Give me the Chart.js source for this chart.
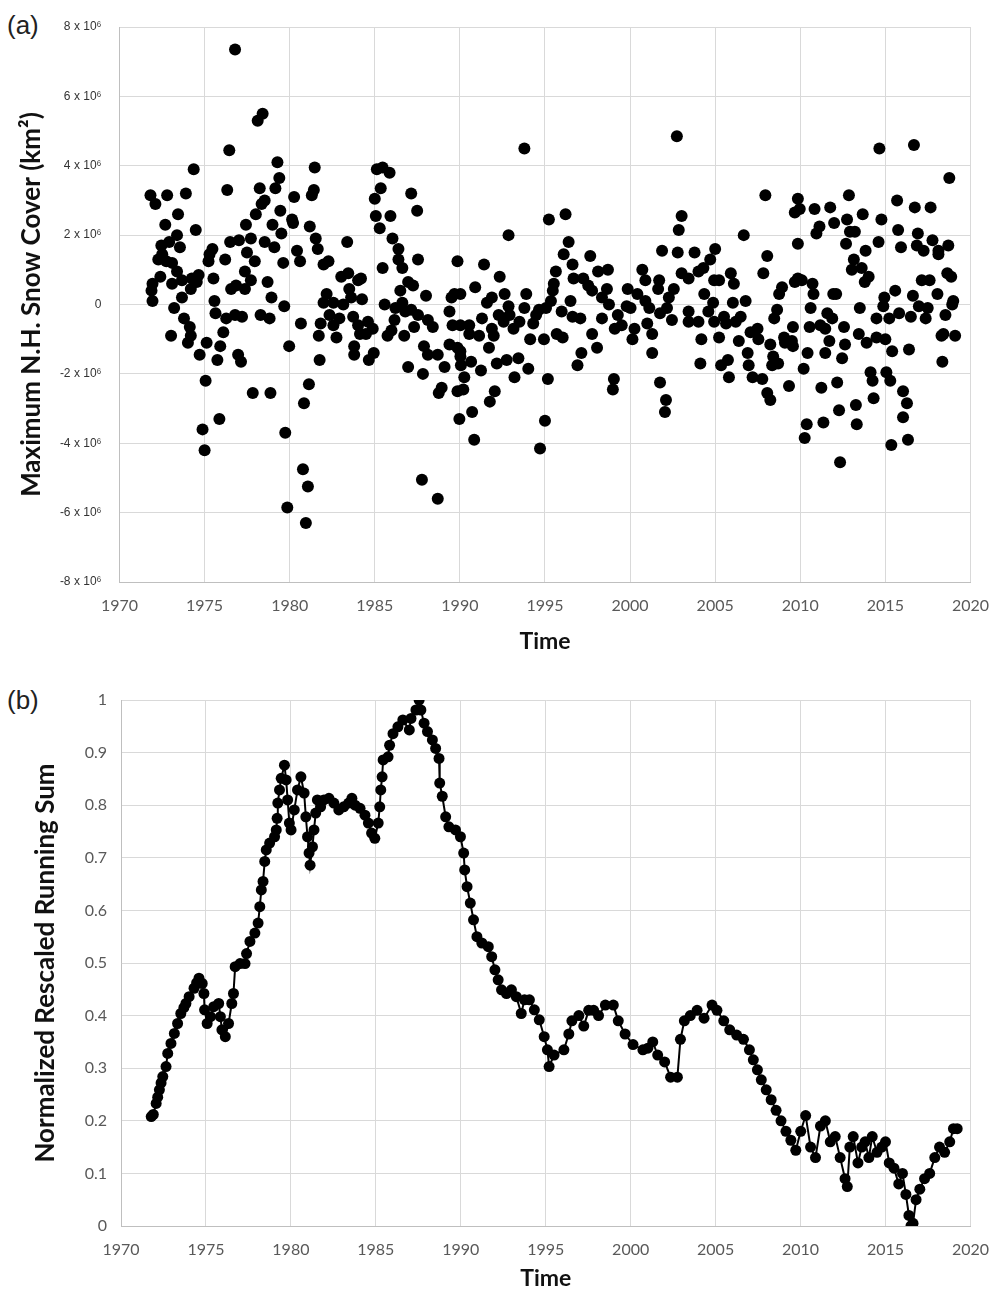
<!DOCTYPE html>
<html>
<head>
<meta charset="utf-8">
<script src="https://cdn.jsdelivr.net/npm/chart.js@4.4.1/dist/chart.umd.min.js"></script>
<style>
  body { margin: 0; background: #fff; }
  .panel { position: absolute; left: 0; width: 1003px; }
  .tag { position: absolute; left: 7px; font: 26px "Liberation Sans", Arial, sans-serif; color: #222; }
</style>
</head>
<body>
<div class="tag" style="top:10px">(a)</div>
<div class="tag" style="top:685px">(b)</div>
<div class="panel" style="top:0;height:660px"><canvas id="snowChart"></canvas></div>
<div class="panel" style="top:655px;height:637px"><canvas id="sumChart"></canvas></div>
<script>
// (a) maximum snow cover anomaly, [year, value in 10^6 km²]
const snow1970s = [
  [1971.82, 3.15], [1971.88, 0.4], [1971.94, 0.1], [1971.94, 0.6], [1972.11, 2.9], [1972.28, 1.3], [1972.40, 0.8],
  [1972.46, 1.7], [1972.51, 1.45], [1972.69, 2.3], [1972.75, 1.25], [1972.80, 3.15], [1972.92, 1.8], [1973.03, -0.9],
  [1973.09, 1.2], [1973.09, 0.6], [1973.21, -0.1], [1973.38, 2.0], [1973.38, 0.95], [1973.44, 2.6], [1973.55, 1.65],
  [1973.67, 0.7], [1973.67, 0.2], [1973.79, -0.4], [1973.90, 3.2], [1974.02, -1.1], [1974.13, -0.65], [1974.19, -0.9],
  [1974.19, 0.45], [1974.25, 0.75], [1974.36, 3.9], [1974.48, 2.15], [1974.54, 0.65], [1974.65, 0.85], [1974.71, -1.45],
  [1974.88, -3.6], [1975.00, -4.2], [1975.06, -2.2], [1975.12, -1.1], [1975.23, 1.25], [1975.29, 1.45], [1975.46, 1.6],
  [1975.52, 0.75], [1975.58, 0.1], [1975.64, -0.25], [1975.75, -1.6], [1975.87, -3.3], [1975.92, -1.2], [1976.10, -0.8],
  [1976.21, 1.3], [1976.27, -0.4], [1976.33, 3.3], [1976.45, 4.45], [1976.50, 1.8], [1976.56, 0.45], [1976.79, 7.35],
  [1976.79, -0.3], [1976.85, 0.55], [1976.97, -1.45], [1977.02, 1.85], [1977.14, -1.65], [1977.20, -0.35], [1977.37, 0.95],
  [1977.37, 0.45], [1977.43, 2.3], [1977.49, 1.5], [1977.72, 1.9], [1977.72, 0.7], [1977.83, -2.55], [1977.95, 1.25],
  [1978.01, 2.6], [1978.12, 5.3], [1978.24, 3.35], [1978.29, -0.3], [1978.35, 2.9], [1978.41, 5.5], [1978.53, 3.0],
  [1978.53, 1.8], [1978.70, 0.65], [1978.82, -0.4], [1978.87, -2.55], [1978.93, 0.2], [1978.99, 2.3], [1979.10, 1.65],
  [1979.16, 3.35], [1979.28, 4.1], [1979.39, 3.65], [1979.45, 2.7], [1979.51, 2.05], [1979.62, 1.2], [1979.68, -0.05],
  [1979.74, -3.7], [1979.86, -5.85], [1979.97, -1.2]
];
const snow1980s = [
  [1980.14, 2.45], [1980.20, 2.35], [1980.26, 3.1], [1980.43, 1.55], [1980.61, 1.25], [1980.66, -0.55], [1980.78, -4.75],
  [1980.84, -2.85], [1980.95, -6.3], [1981.07, -5.25], [1981.13, -2.3], [1981.18, 2.25], [1981.30, 3.15], [1981.42, 3.3],
  [1981.47, 3.95], [1981.53, 1.9], [1981.65, 1.6], [1981.71, -0.9], [1981.76, -1.6], [1981.82, -0.55], [1981.99, 1.15],
  [1981.99, 0.05], [1982.17, 0.3], [1982.28, 1.25], [1982.34, -0.3], [1982.57, 0.05], [1982.57, -0.6], [1982.75, -0.95],
  [1982.92, -0.4], [1983.03, 0.8], [1983.15, 0.0], [1983.38, 1.8], [1983.44, 0.9], [1983.50, 0.45], [1983.61, 0.2],
  [1983.73, -0.35], [1983.79, -1.2], [1983.79, -1.45], [1984.02, 0.7], [1984.02, -0.6], [1984.13, -0.85], [1984.19, 0.75],
  [1984.25, 0.15], [1984.48, -0.85], [1984.60, -0.5], [1984.65, -1.6], [1984.88, -0.7], [1984.94, -1.4], [1985.00, 3.05],
  [1985.06, 2.55], [1985.12, 3.9], [1985.29, 2.2], [1985.35, 3.35], [1985.46, 3.95], [1985.46, 1.05], [1985.58, 0.0],
  [1985.75, -0.9], [1985.87, 3.8], [1985.92, 2.55], [1985.98, -0.75], [1986.04, 1.9], [1986.16, -0.45], [1986.21, -0.1],
  [1986.39, 1.6], [1986.39, 1.3], [1986.50, 0.4], [1986.62, 1.05], [1986.62, 0.05], [1986.73, -0.9], [1986.79, -0.2],
  [1986.96, 0.65], [1986.96, -1.8], [1987.14, 3.2], [1987.14, -0.15], [1987.25, 0.55], [1987.31, -0.65], [1987.49, 2.7],
  [1987.54, 1.3], [1987.54, -0.3], [1987.77, -5.05], [1987.83, -2.0], [1987.89, -1.2], [1988.01, 0.25], [1988.12, -0.45],
  [1988.12, -1.45], [1988.41, -0.65], [1988.70, -1.45], [1988.70, -5.6], [1988.76, -2.55], [1988.93, -2.4], [1989.10, -1.8],
  [1989.39, -1.15], [1989.39, -0.2], [1989.51, 0.2], [1989.57, -0.6], [1989.68, 0.3], [1989.86, 1.25], [1989.86, -1.25],
  [1989.86, -2.5], [1989.97, -3.3]
];
const snow1990s = [
  [1990.03, 0.3], [1990.03, -0.6], [1990.03, -1.35], [1990.03, -1.5], [1990.06, -1.75], [1990.26, -2.1], [1990.20, -2.45],
  [1990.72, -3.1], [1990.84, -3.9], [1990.66, -1.65], [1991.24, -1.9], [1990.55, -0.6], [1990.55, -0.85], [1990.90, 0.5],
  [1991.13, -0.9], [1991.30, -0.4], [1991.42, 1.15], [1991.71, -1.25], [1991.59, 0.05], [1991.88, 0.2], [1991.88, -0.7],
  [1991.99, -0.9], [1991.76, -2.8], [1992.05, -2.5], [1992.17, -1.7], [1992.34, 0.8], [1992.28, -0.3], [1992.57, -0.5],
  [1992.63, 0.3], [1992.75, -1.6], [1992.86, 2.0], [1992.86, -0.05], [1992.92, -0.3], [1993.15, -0.7], [1993.21, -2.1],
  [1993.44, -1.55], [1993.50, -0.5], [1993.79, 4.5], [1993.90, 0.3], [1993.79, -0.1], [1994.02, -1.85], [1994.13, -1.0],
  [1994.31, -0.55], [1994.48, -0.3], [1994.65, -0.15], [1994.94, -1.0], [1994.71, -4.15], [1995.00, -3.35], [1995.17, -2.15],
  [1995.23, 2.45], [1995.06, -0.1], [1995.35, 0.1], [1995.46, 0.4], [1995.52, 0.6], [1995.64, 0.95], [1995.69, -0.85],
  [1995.98, -0.2], [1996.04, -0.95], [1996.10, 1.45], [1996.21, 2.6], [1996.39, 1.8], [1996.50, 0.1], [1996.62, 1.15],
  [1996.68, 0.75], [1996.62, -0.35], [1997.08, -0.4], [1996.91, -1.75], [1997.14, -1.4], [1997.25, 0.75], [1997.66, 1.4],
  [1997.54, 0.55], [1997.77, 0.4], [1997.77, -0.85], [1998.06, -1.25], [1998.12, 0.95], [1998.35, -0.4], [1998.35, 0.2],
  [1998.64, 0.45], [1998.70, 1.0], [1998.76, 0.0], [1999.05, -2.15], [1998.99, -2.45], [1999.10, -0.7], [1999.28, -0.3],
  [1999.51, -0.6], [1999.80, -0.05], [1999.86, 0.45]
];
const snow2000s = [
  [2000.03, -0.1], [2000.14, -1.0], [2000.26, -0.7], [2000.43, 0.3], [2000.72, 1.0], [2000.90, 0.7], [2000.90, 0.1],
  [2001.01, -0.55], [2001.13, -0.1], [2001.30, -0.85], [2001.30, -1.4], [2001.65, 0.45], [2001.71, 0.7], [2001.76, -0.25],
  [2001.76, -2.25], [2001.88, 1.55], [2002.05, -3.1], [2002.11, -2.75], [2002.17, -0.1], [2002.28, 0.2], [2002.46, -0.45],
  [2002.57, 0.45], [2002.75, 4.85], [2002.80, 1.5], [2002.86, 2.15], [2003.03, 2.55], [2003.03, 0.9], [2003.44, 0.75],
  [2003.44, -0.2], [2003.44, -0.5], [2003.79, 1.5], [2004.02, 0.95], [2004.02, -0.5], [2004.13, -1.7], [2004.19, -1.0],
  [2004.31, 1.05], [2004.36, 0.3], [2004.60, -0.2], [2004.71, 1.3], [2004.88, 0.05], [2004.94, 0.7], [2004.94, -0.5],
  [2005.00, 1.6], [2005.23, 0.7], [2005.23, -0.95], [2005.35, -1.75], [2005.52, -0.35], [2005.64, -0.55], [2005.75, -1.6],
  [2005.81, -2.1], [2005.92, 0.9], [2006.04, 0.05], [2006.10, 0.6], [2006.21, -0.5], [2006.39, -1.05], [2006.50, -0.35],
  [2006.68, 2.0], [2006.79, 0.1], [2006.91, -1.4], [2006.97, -1.75], [2007.08, -0.8], [2007.20, -2.1], [2007.49, -0.7],
  [2007.54, -1.0], [2007.77, -2.15], [2007.83, 0.9], [2007.95, 3.15], [2008.06, 1.4], [2008.06, -2.55], [2008.24, -1.15],
  [2008.24, -2.75], [2008.35, -1.75], [2008.41, -1.5], [2008.47, -0.4], [2008.64, -0.15], [2008.70, -1.7], [2008.76, 0.3],
  [2008.93, 0.5], [2009.05, -0.95], [2009.10, -1.1], [2009.34, -2.35], [2009.51, -1.05], [2009.57, -0.65], [2009.57, -1.2],
  [2009.68, 2.65], [2009.68, 0.65], [2009.86, 3.05], [2009.86, 1.75], [2009.86, 0.75]
];
const snow2010s = [
  [2009.97, 2.75], [2010.09, 0.7], [2010.20, -1.85], [2010.26, -3.85], [2010.38, -3.45], [2010.43, -1.4], [2010.55, -0.65],
  [2010.61, -0.1], [2010.72, 0.6], [2010.78, 0.3], [2010.84, 2.75], [2010.95, 2.05], [2011.13, 2.25], [2011.18, -0.6],
  [2011.24, -2.4], [2011.36, -3.4], [2011.47, -0.7], [2011.47, -1.4], [2011.59, -0.25], [2011.71, -1.05], [2011.76, 2.8],
  [2011.88, -0.4], [2011.94, 0.3], [2011.99, 2.35], [2012.11, 0.3], [2012.17, -2.25], [2012.28, -3.05], [2012.34, -4.55],
  [2012.46, -1.55], [2012.57, -0.65], [2012.63, -1.15], [2012.69, 1.75], [2012.75, 2.45], [2012.86, 3.15], [2012.92, 2.1],
  [2013.03, 1.0], [2013.15, 1.3], [2013.21, 2.1], [2013.27, -2.9], [2013.32, -3.45], [2013.44, -0.85], [2013.50, -0.1],
  [2013.61, 1.05], [2013.67, 2.6], [2013.79, 0.65], [2013.84, 1.55], [2013.90, -1.1], [2014.02, 0.8], [2014.13, -1.95],
  [2014.25, -2.2], [2014.31, -2.7], [2014.48, -0.95], [2014.48, -0.4], [2014.60, 1.8], [2014.65, 4.5], [2014.77, 2.45],
  [2014.88, -0.05], [2014.94, 0.2], [2015.00, -1.0], [2015.06, -1.95], [2015.23, -0.4], [2015.29, -2.2], [2015.35, -4.05],
  [2015.40, -1.35], [2015.58, 0.4], [2015.69, 3.0], [2015.75, 2.15], [2015.81, -0.25], [2015.92, 1.65], [2016.04, -2.5],
  [2016.04, -3.25], [2016.27, -2.85], [2016.33, -3.9], [2016.39, -1.3], [2016.50, -0.35], [2016.62, 0.25], [2016.68, 4.6],
  [2016.73, 2.8], [2016.85, 1.7], [2016.91, 2.05], [2016.97, -0.05], [2017.14, 0.7], [2017.25, 1.55], [2017.37, -0.4],
  [2017.49, -0.1], [2017.60, 0.7], [2017.66, 2.8], [2017.77, 1.85], [2018.06, 0.3], [2018.12, 1.55], [2018.12, 1.45],
  [2018.30, -0.9], [2018.35, -1.65], [2018.41, -0.85], [2018.53, -0.3], [2018.64, 0.9], [2018.70, 1.7], [2018.76, 3.65],
  [2018.87, 0.8], [2018.93, 0.0], [2018.99, 0.1], [2019.10, -0.9]
];

// (b) normalized rescaled running sum, [year, value]
const runSumEarly = [
  [1971.78, 0.208], [1971.90, 0.212], [1972.07, 0.233], [1972.16, 0.245], [1972.26, 0.259], [1972.36, 0.272], [1972.46, 0.284],
  [1972.65, 0.303], [1972.75, 0.328], [1972.94, 0.347], [1973.14, 0.366], [1973.33, 0.385], [1973.52, 0.404], [1973.70, 0.415],
  [1973.82, 0.423], [1974.01, 0.436], [1974.30, 0.452], [1974.45, 0.462], [1974.59, 0.471], [1974.78, 0.461], [1974.88, 0.442],
  [1974.92, 0.411], [1975.07, 0.385], [1975.27, 0.398], [1975.46, 0.417], [1975.75, 0.423], [1975.85, 0.398], [1975.94, 0.373],
  [1976.14, 0.360], [1976.33, 0.385], [1976.52, 0.423], [1976.62, 0.442], [1976.72, 0.493], [1977.01, 0.499], [1977.30, 0.499],
  [1977.39, 0.518], [1977.59, 0.541], [1977.88, 0.557], [1978.07, 0.576], [1978.17, 0.607], [1978.26, 0.639], [1978.36, 0.655],
  [1978.46, 0.693], [1978.55, 0.715], [1978.75, 0.728], [1979.04, 0.740], [1979.14, 0.753], [1979.19, 0.775], [1979.23, 0.804],
  [1979.33, 0.829], [1979.43, 0.851], [1979.62, 0.876], [1979.72, 0.848], [1979.81, 0.810], [1979.91, 0.766], [1980.01, 0.753],
  [1980.20, 0.791], [1980.39, 0.829], [1980.59, 0.854], [1980.78, 0.823], [1980.88, 0.778], [1980.98, 0.740], [1981.07, 0.709],
  [1981.13, 0.686], [1981.27, 0.721], [1981.36, 0.753], [1981.46, 0.785], [1981.56, 0.810], [1981.75, 0.797], [1981.94, 0.810],
  [1982.24, 0.813], [1982.53, 0.804], [1982.82, 0.791], [1983.11, 0.797], [1983.40, 0.804], [1983.59, 0.813], [1983.78, 0.800],
  [1984.07, 0.794], [1984.36, 0.781], [1984.56, 0.766], [1984.75, 0.747], [1984.94, 0.737]
];
const runSumMiddle = [
  [1985.14, 0.766], [1985.23, 0.797], [1985.29, 0.829], [1985.37, 0.854], [1985.43, 0.886], [1985.72, 0.892], [1985.81, 0.914],
  [1986.01, 0.936], [1986.30, 0.949], [1986.59, 0.962], [1986.97, 0.943], [1987.07, 0.965], [1987.36, 0.981], [1987.55, 1.000],
  [1987.65, 0.981], [1987.84, 0.956], [1988.04, 0.940], [1988.33, 0.924], [1988.52, 0.908], [1988.72, 0.889], [1988.76, 0.842],
  [1988.91, 0.817], [1989.11, 0.778], [1989.30, 0.759], [1989.69, 0.753], [1989.98, 0.740], [1990.17, 0.709], [1990.23, 0.677],
  [1990.37, 0.645], [1990.56, 0.614], [1990.75, 0.582], [1990.95, 0.550], [1991.24, 0.538], [1991.62, 0.531], [1991.82, 0.512],
  [1992.01, 0.487], [1992.20, 0.468], [1992.40, 0.449], [1992.69, 0.442], [1992.98, 0.449], [1993.27, 0.436], [1993.56, 0.404],
  [1993.75, 0.430], [1994.04, 0.430], [1994.33, 0.411], [1994.62, 0.392], [1994.91, 0.360], [1995.10, 0.335], [1995.20, 0.303]
];
const runSumLate = [
  [1995.49, 0.325], [1996.07, 0.335], [1996.36, 0.365], [1996.54, 0.39], [1996.95, 0.40], [1997.24, 0.38], [1997.53, 0.41],
  [1997.82, 0.41], [1998.11, 0.40], [1998.51, 0.42], [1998.98, 0.42], [1999.27, 0.39], [1999.67, 0.365], [2000.14, 0.345],
  [2000.72, 0.335], [2001.01, 0.338], [2001.30, 0.35], [2001.59, 0.325], [2002.00, 0.312], [2002.35, 0.283], [2002.75, 0.283],
  [2002.93, 0.355], [2003.16, 0.39], [2003.51, 0.40], [2003.91, 0.41], [2004.32, 0.395], [2004.79, 0.42], [2005.08, 0.41],
  [2005.48, 0.39], [2005.83, 0.373], [2006.24, 0.363], [2006.64, 0.355], [2006.99, 0.335], [2007.22, 0.316], [2007.46, 0.297],
  [2007.69, 0.278], [2007.98, 0.259], [2008.27, 0.24], [2008.56, 0.22], [2008.85, 0.2], [2009.14, 0.18], [2009.43, 0.163],
  [2009.72, 0.144], [2010.01, 0.18], [2010.30, 0.21], [2010.59, 0.15], [2010.88, 0.13], [2011.17, 0.19], [2011.46, 0.2],
  [2011.75, 0.16], [2012.04, 0.17], [2012.33, 0.13], [2012.62, 0.09], [2012.75, 0.075], [2012.90, 0.15], [2013.10, 0.17],
  [2013.38, 0.12], [2013.60, 0.15], [2013.80, 0.16], [2014.02, 0.13], [2014.22, 0.17], [2014.50, 0.14], [2014.78, 0.15],
  [2015.00, 0.16], [2015.22, 0.12], [2015.50, 0.11], [2015.78, 0.08], [2016.00, 0.10], [2016.20, 0.06], [2016.38, 0.02],
  [2016.50, 0.0], [2016.62, 0.005], [2016.80, 0.05], [2017.02, 0.07], [2017.30, 0.09], [2017.60, 0.10], [2017.90, 0.13],
  [2018.18, 0.15], [2018.48, 0.14], [2018.78, 0.16], [2019.00, 0.185], [2019.22, 0.185]
];

const yearMin = 1970, yearMax = 2020, yearStep = 5;

const toPoints = rows => rows.map(([x, y]) => ({ x, y }));
const snowPoints = toPoints([...snow1970s, ...snow1980s, ...snow1990s, ...snow2000s, ...snow2010s]);
const sumPoints = toPoints([...runSumEarly, ...runSumMiddle, ...runSumLate]);

const gridColor = '#d9d9d9';
const tickColor = '#595959';
const titleFont = { family: 'Lato, "Open Sans", sans-serif', size: 23, weight: 'bold' };
const sideTitleFont = { family: 'Lato, "Open Sans", sans-serif', size: 26, weight: 'bold' };
const tickFont = { family: 'Lato, "Open Sans", sans-serif', size: 16 };

function timeAxis(height) {
  return {
    type: 'linear',
    min: yearMin,
    max: yearMax,
    afterFit: s => { s.height = height; },
    grid: { color: gridColor, drawTicks: false },
    border: { color: '#bfbfbf' },
    ticks: { stepSize: yearStep, color: tickColor, font: tickFont, padding: 14, callback: v => String(v) },
    title: { display: true, text: 'Time', color: '#111', font: titleFont, padding: 0 }
  };
}

Chart.defaults.animation = false;

// (a) scatter
new Chart(document.getElementById('snowChart'), {
  type: 'scatter',
  data: {
    datasets: [{
      data: snowPoints,
      pointRadius: 6,
      pointBackgroundColor: '#000',
      pointBorderColor: '#000',
      pointBorderWidth: 0
    }]
  },
  options: {
    responsive: true,
    maintainAspectRatio: false,
    layout: { padding: { top: 27, left: 16, right: 19, bottom: 5 } },
    plugins: { legend: { display: false }, tooltip: { enabled: false } },
    scales: {
      x: timeAxis(73),
      y: {
        min: -8,
        max: 8,
        afterFit: s => { s.width = 103.5; },
        grid: { color: gridColor, drawTicks: false },
        border: { color: '#bfbfbf' },
        ticks: {
          stepSize: 2,
          color: '#333',
          padding: 18,
          font: { family: '"Liberation Sans", Arial, sans-serif', size: 12 },
          callback: v => v === 0 ? '0' : v + ' x 10\u2076'
        },
        title: { display: true, text: 'Maximum N.H. Snow Cover (km\u00b2)', color: '#111', font: sideTitleFont, padding: 0 }
      }
    }
  }
});

// (b) running sum
new Chart(document.getElementById('sumChart'), {
  type: 'line',
  data: {
    datasets: [{
      data: sumPoints,
      borderColor: '#000',
      borderWidth: 2,
      pointRadius: 5.5,
      pointBackgroundColor: '#000',
      pointBorderColor: '#000',
      pointBorderWidth: 0,
      tension: 0
    }]
  },
  options: {
    responsive: true,
    maintainAspectRatio: false,
    layout: { padding: { top: 45, left: 30, right: 21, bottom: 0 } },
    plugins: { legend: { display: false }, tooltip: { enabled: false } },
    scales: {
      x: timeAxis(66),
      y: {
        min: 0,
        max: 1,
        afterFit: s => { s.width = 91; },
        grid: { color: gridColor, drawTicks: false },
        border: { color: '#bfbfbf' },
        ticks: {
          stepSize: 0.1,
          color: tickColor,
          font: tickFont,
          padding: 14,
          callback: v => String(Math.round(v * 10) / 10)
        },
        title: { display: true, text: 'Normalized Rescaled Running Sum', color: '#111', font: sideTitleFont, padding: 0 }
      }
    }
  }
});
</script>
</body>
</html>
